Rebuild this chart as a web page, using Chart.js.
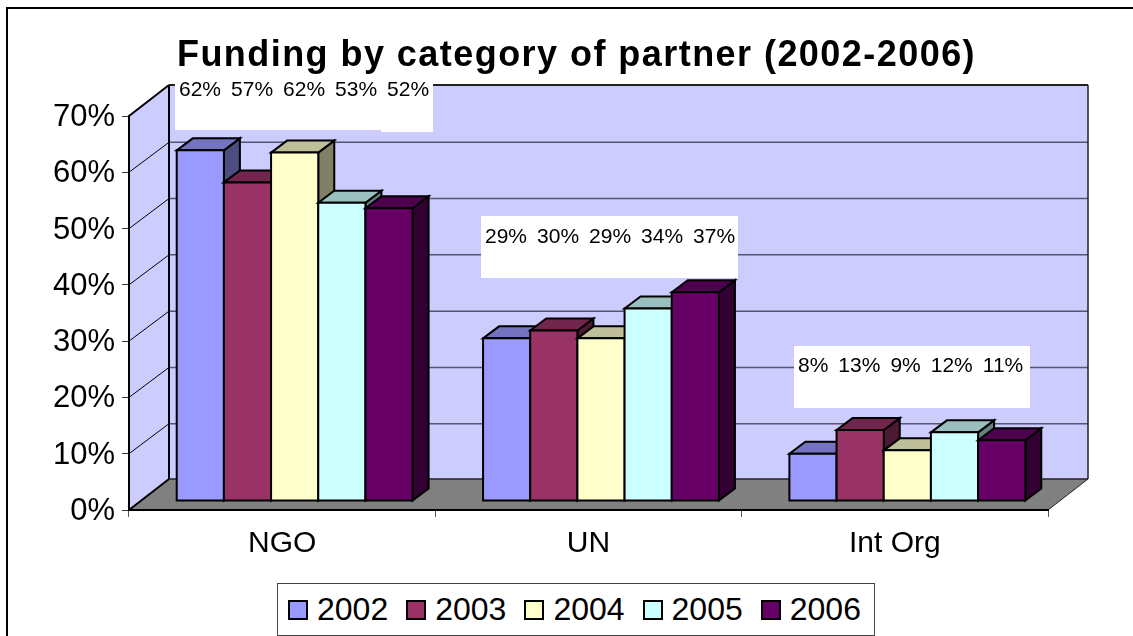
<!DOCTYPE html>
<html>
<head>
<meta charset="utf-8">
<title>Funding by category of partner</title>
<script src="https://cdn.jsdelivr.net/npm/chart.js@4"></script>
<style>
    html, body { margin: 0; padding: 0; background: #fff; overflow: hidden; font-family: "Liberation Sans", Arial, sans-serif; }
    #frame { position: absolute; left: 6px; top: 7px; width: 1140px; height: 640px; border-left: 2px solid #000; border-top: 2px solid #000; }
    #wrap { position: absolute; left: 20px; top: 0; width: 1113px; height: 636px; }
    #legend { position: absolute; left: 277px; top: 583px; width: 586px; height: 51px; border: 1px solid #444; background: #fff;
              display: flex; align-items: center; padding-left: 10px; }
    .item { display: flex; align-items: center; margin-right: 18px; font-size: 32px; color: #000; }
    .swatch { width: 16px; height: 16px; border: 2px solid #000; margin-right: 9px; }
</style>
</head>
<body>
<div id="frame"></div>
<div id="wrap"><canvas id="fundingChart" width="1113" height="636"></canvas></div>
<div id="legend"></div>
<script>
const categories = ['NGO', 'UN', 'Int Org'];
const years = ['2002', '2003', '2004', '2005', '2006'];
const values2002 = [62.3, 28.9, 8.4];
const values2003 = [56.6, 30.3, 12.6];
const values2004 = [61.9, 28.9, 9.0];
const values2005 = [53.0, 34.2, 12.2];
const values2006 = [52.0, 37.1, 10.8];
const seriesValues = [values2002, values2003, values2004, values2005, values2006];
const faceColors = ['#9999FF', '#993366', '#FFFFCC', '#CCFFFF', '#660066'];
const topColors = ['#7373BF', '#73264D', '#BFBF99', '#99BFBF', '#4D004D'];
const sideColors = ['#4D4D80', '#4D1933', '#808066', '#668080', '#330033'];
const yTicks = [0, 10, 20, 30, 40, 50, 60, 70];

// 3D offsets of the old spreadsheet look
const wallDx = 40, wallDy = -31;
const barDx = 12.5, barDy = -9;
const depthDx = 16, depthDy = -12;

// white boxes behind the value labels (canvas coords)
const labelBoxes = [
    [[155, 83, 206, 47], [361, 83, 52, 49]],
    [[461, 216, 257, 62]],
    [[774, 346, 236, 62]]
];
const labelStarts = [[159, 90], [465, 237], [778, 366]];

function poly(ctx, pts, fill, stroke, width) {
    ctx.beginPath();
    pts.forEach((p, i) => i ? ctx.lineTo(p[0], p[1]) : ctx.moveTo(p[0], p[1]));
    ctx.closePath();
    if (fill) { ctx.fillStyle = fill; ctx.fill(); }
    if (stroke) { ctx.strokeStyle = stroke; ctx.lineWidth = width; ctx.stroke(); }
}

function line(ctx, x1, y1, x2, y2, color, width) {
    ctx.beginPath();
    ctx.moveTo(x1, y1);
    ctx.lineTo(x2, y2);
    ctx.strokeStyle = color;
    ctx.lineWidth = width;
    ctx.stroke();
}

const depthPlugin = {
    id: 'depth',
    afterLayout(chart) {
        // title is centred on the whole canvas, not on the padded area
        const block = chart.titleBlock;
        block.left = 0;
        block.right = chart.width;
        if (block.spaced) return;
        // title in the reference is spaced out a little, Chart.js has no option for it
        const drawTitle = block.draw;
        block.draw = function() {
            chart.ctx.letterSpacing = '1.45px';
            drawTitle.call(block);
            chart.ctx.letterSpacing = '0px';
        };
        block.spaced = true;
    },
    beforeDraw(chart) {
        const ctx = chart.ctx, a = chart.chartArea, y = chart.scales.y;
        const l = a.left, r = a.right, t = a.top, b = a.bottom;
        ctx.save();
        poly(ctx, [[l, t], [l + wallDx, t + wallDy], [l + wallDx, b + wallDy], [l, b]], '#CCCCFF');
        poly(ctx, [[l + wallDx, t + wallDy], [r + wallDx, t + wallDy], [r + wallDx, b + wallDy], [l + wallDx, b + wallDy]], '#CCCCFF');
        poly(ctx, [[l, b], [r, b], [r + wallDx, b + wallDy], [l + wallDx, b + wallDy]], '#808080');
        yTicks.slice(1, -1).forEach(v => {
            const py = y.getPixelForValue(v);
            line(ctx, l, py, l + wallDx, py + wallDy + 1, '#000', 1);
            line(ctx, l + wallDx, py + wallDy + 1, r + wallDx, py + wallDy + 1, '#55556f', 1.5);
        });
        line(ctx, l, t, l + wallDx, t + wallDy, '#000', 2);
        line(ctx, l, b, l + wallDx, b + wallDy, '#000', 2);
        line(ctx, l + wallDx, t + wallDy, l + wallDx, b + wallDy, '#000', 2);
        line(ctx, l + wallDx, t + wallDy, r + wallDx, t + wallDy, '#222', 2);
        line(ctx, r + wallDx, t + wallDy, r + wallDx, b + wallDy, '#222', 1.5);
        line(ctx, l + wallDx, b + wallDy, r + wallDx, b + wallDy, '#222', 1.5);
        line(ctx, r, b, r + wallDx, b + wallDy, '#222', 1);
        ctx.restore();
    },
    beforeDatasetsDraw(chart) {
        const ctx = chart.ctx;
        ctx.save();
        ctx.lineJoin = 'miter';
        // Chart.js paints the last dataset first, here each bar has to overlap the one on its left
        seriesValues.forEach((vals, i) => {
            chart.getDatasetMeta(i).data.forEach(el => {
                const x0 = el.x - el.width / 2, x1 = el.x + el.width / 2;
                const top = el.y, base = el.base;
                ctx.save();
                ctx.translate(barDx, barDy);
                poly(ctx, [[x1, base], [x1 + depthDx, base + depthDy], [x1 + depthDx, top + depthDy], [x1, top]], sideColors[i], '#000', 2);
                poly(ctx, [[x0, top], [x0 + depthDx, top + depthDy], [x1 + depthDx, top + depthDy], [x1, top]], topColors[i], '#000', 2);
                el.draw(ctx);
                poly(ctx, [[x0, top], [x1, top], [x1, base], [x0, base]], null, '#000', 2);
                ctx.restore();
            });
        });
        ctx.restore();
        return false;
    },
    afterDraw(chart) {
        const ctx = chart.ctx;
        ctx.save();
        ctx.font = '21px "Liberation Sans"';
        ctx.textBaseline = 'middle';
        categories.forEach((c, k) => {
            labelBoxes[k].forEach(b => {
                ctx.fillStyle = '#fff';
                ctx.fillRect(b[0], b[1], b[2], b[3]);
            });
            let x = labelStarts[k][0];
            ctx.fillStyle = '#000';
            seriesValues.forEach(vals => {
                const txt = Math.round(vals[k]) + '%';
                ctx.fillText(txt, x, labelStarts[k][1]);
                x += ctx.measureText(txt).width + 10;
            });
        });
        ctx.restore();
    }
};

const chart = new Chart(document.getElementById('fundingChart').getContext('2d'), {
    type: 'bar',
    data: {
        labels: categories,
        datasets: years.map((yr, i) => ({
            label: yr,
            data: seriesValues[i],
            backgroundColor: faceColors[i],
            borderWidth: 0
        }))
    },
    options: {
        responsive: false,
        animation: false,
        layout: { padding: { right: 85 } },
        categoryPercentage: 0.77,
        barPercentage: 1,
        plugins: {
            legend: { display: false },
            tooltip: { enabled: false },
            title: {
                display: true,
                text: 'Funding by category of partner (2002-2006)',
                color: '#000',
                font: { family: '"Liberation Sans"', size: 36, weight: 'bold' },
                padding: { top: 34.4, bottom: 38.4 }
            }
        },
        scales: {
            x: {
                afterFit(scale) { scale.height = 126; },
                grid: { drawOnChartArea: false, tickLength: 7, color: '#555' },
                border: { color: '#000', width: 2 },
                ticks: { color: '#000', padding: 9, font: { family: '"Liberation Sans"', size: 30 }, maxRotation: 0 }
            },
            y: {
                min: 0,
                max: 70,
                afterFit(scale) { scale.width = 109; },
                grid: { drawOnChartArea: false, tickLength: 7, color: '#333' },
                border: { color: '#000', width: 2 },
                ticks: {
                    stepSize: 10,
                    color: '#000',
                    padding: 7,
                    labelOffset: 1.5,
                    font: { family: '"Liberation Sans"', size: 31 },
                    callback: v => v + '%'
                }
            }
        }
    },
    plugins: [depthPlugin]
});

// legend sits in its own box with tighter swatch spacing than the built in one
const legendEl = document.getElementById('legend');
chart.data.datasets.forEach(ds => {
    const item = document.createElement('div');
    item.className = 'item';
    const swatch = document.createElement('span');
    swatch.className = 'swatch';
    swatch.style.background = ds.backgroundColor;
    item.appendChild(swatch);
    item.appendChild(document.createTextNode(ds.label));
    legendEl.appendChild(item);
});
</script>
</body>
</html>
